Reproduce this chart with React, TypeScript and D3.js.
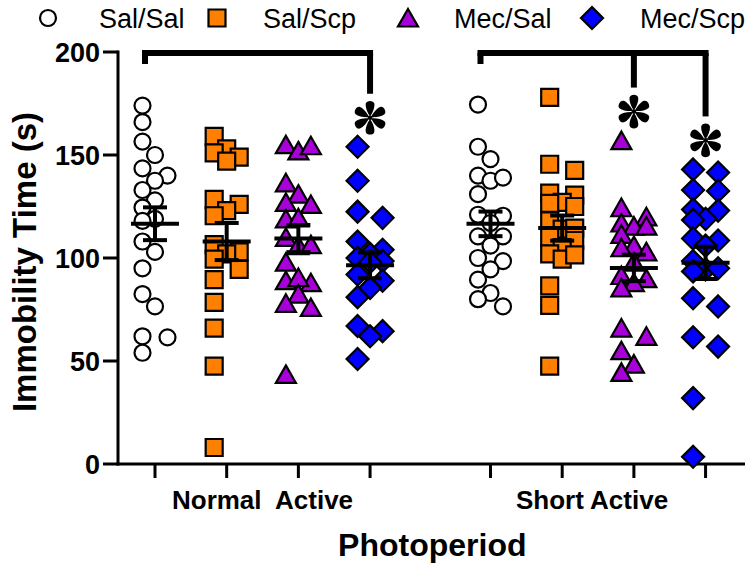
import React from "react";
import * as d3 from "d3";

// ---------- data ----------
const photoperiods = ["Normal  Active", "Short Active"];
const treatments = ["Sal/Sal", "Sal/Scp", "Mec/Sal", "Mec/Scp"];
const yTicks = [0, 50, 100, 150, 200];

const normalSalSal = [174, 166, 156.5, 150, 143.5, 140, 137.5, 133, 128, 124.5, 119, 118, 108, 103, 95, 82.5, 76.5, 62, 61.5, 54];
const normalSalScp = [159, 153, 151, 149, 147, 128.5, 126, 123, 120.5, 106.5, 103, 102, 99.5, 94.5, 89.5, 78.5, 66, 47.5, 8];
const normalMecSal = [155, 152, 154.5, 136.5, 131, 127, 126, 119, 119.5, 110, 106, 106.5, 98, 88, 89, 90.5, 82.5, 78, 76, 43.5];
const normalMecScp = [154, 137.5, 122.5, 119.5, 108, 104, 102, 100, 98.5, 98, 92, 89, 85.5, 81, 67, 64.5, 62, 51];
const shortSalSal = [174.5, 154, 148, 140, 137.5, 139, 131, 121, 120.5, 117, 110.5, 110.5, 106, 100, 98.5, 94.5, 89.5, 83, 80, 76.5];
const shortSalScp = [178, 145.5, 142.5, 131.5, 130.5, 127, 125, 126.5, 118, 114, 114.5, 110, 108.5, 105, 102, 99.5, 101.5, 86.5, 77, 47.5];
const shortMecSal = [157, 124.5, 120, 117, 115.5, 115.5, 111.5, 106, 105, 103, 98, 91.5, 90, 88, 85.5, 66, 62, 55, 48.5, 44.5];
const shortMecScp = [143, 141.5, 133, 132.5, 123.5, 123, 119, 118.5, 109.5, 108.5, 106, 98.5, 94.5, 93.5, 95, 80.5, 76.5, 61.5, 57, 32, 3.5];

// group slot positions along x (4 per photoperiod, with a gap between photoperiods)
const groupSlots = [1, 2, 3, 4, 5.68, 6.68, 7.68, 8.68];
const groupData = [normalSalSal, normalSalScp, normalMecSal, normalMecScp, shortSalSal, shortSalScp, shortMecSal, shortMecScp];
// significance brackets: [first group, significant groups...]
const brackets = [
  { from: 0, marks: [3] },
  { from: 4, marks: [6, 7] },
];

// ---------- styles ----------
const FONT = "'Liberation Sans', Arial, Helvetica, sans-serif";
const COLORS = ["#ffffff", "#ff8000", "#a800d8", "#0000ff"];

const W = 750, H = 570;
const x = d3.scaleLinear().domain([0.484, 9.23]).range([118, 745]);
const y = d3.scaleLinear().domain([0, 200]).range([464, 52]);

function markerPath(kind: number): string {
  const p = d3.path();
  if (kind === 0) {
    p.arc(0, 0, 8, 0, Math.PI * 2);
  } else if (kind === 1) {
    p.rect(-8.5, -8.5, 17, 17);
  } else if (kind === 2) {
    p.moveTo(0, -9);
    p.lineTo(10, 8.5);
    p.lineTo(-10, 8.5);
    p.closePath();
  } else {
    p.moveTo(0, -11);
    p.lineTo(11, 0);
    p.lineTo(0, 11);
    p.lineTo(-11, 0);
    p.closePath();
  }
  return p.toString();
}

function Marker({ kind, cx, cy }: { kind: number; cx: number; cy: number }) {
  return (
    <path
      d={markerPath(kind)}
      transform={`translate(${cx},${cy})`}
      fill={COLORS[kind]}
      stroke="#000"
      strokeWidth={2.2}
      strokeLinejoin="miter"
    />
  );
}

// place points in up to three columns so they do not overlap (scatter dot plot)
function arrange(values: number[], step: number, thresh: number): number[] {
  const idx = values.map((_, i) => i).sort((a, b) => values[b] - values[a]);
  const placed: { x: number; y: number }[] = [];
  const offsets = new Array(values.length).fill(0);
  for (const i of idx) {
    const py = y(values[i]);
    let best = 0;
    let bestD = -1;
    for (const c of [-1, 0, 1]) {
      const px = c * step;
      let md = Infinity;
      for (const p of placed) md = Math.min(md, Math.hypot(p.x - px, p.y - py));
      if (md >= thresh) {
        best = c;
        bestD = md;
        break;
      }
      if (md > bestD) {
        bestD = md;
        best = c;
      }
    }
    placed.push({ x: best * step, y: py });
    offsets[i] = best * step;
  }
  return offsets;
}

function Asterisk({ cx, cy }: { cx: number; cy: number }) {
  const lobes = [0, 60, 120, 180, 240, 300];
  return (
    <g transform={`translate(${cx},${cy}) scale(1.18)`}>
      {lobes.map((a) => (
        <path
          key={a}
          transform={`rotate(${a})`}
          d="M0,-1 C-2.2,-4 -4.2,-9 -3.6,-12 C-3,-15 3,-15 3.6,-12 C4.2,-9 2.2,-4 0,-1 Z"
          fill="#000"
        />
      ))}
      <circle r={2} fill="#000" />
    </g>
  );
}

export default function App() {
  const legendItems = [
    { kind: 0, mx: 48, tx: 99 },
    { kind: 1, mx: 217, tx: 263 },
    { kind: 2, mx: 408, tx: 454 },
    { kind: 3, mx: 592, tx: 640 },
  ];

  return (
    <svg
      width={W}
      height={H}
      style={{ position: "absolute", left: 0, top: 0, background: "#fff" }}
      fontFamily={FONT}
    >
      <rect width={W} height={H} fill="#fff" />

      {/* legend */}
      {legendItems.map((it, i) => (
        <g key={i}>
          <Marker kind={it.kind} cx={it.mx} cy={18} />
          <text x={it.tx} y={28} fontSize={27} fill="#000">
            {treatments[i]}
          </text>
        </g>
      ))}

      {/* y axis */}
      <line x1={x.range()[0]} x2={x.range()[0]} y1={y(0) + 1.5} y2={y(200) - 1.5} stroke="#000" strokeWidth={3} />
      {yTicks.map((t) => (
        <g key={t}>
          <line x1={x.range()[0] - 15} x2={x.range()[0]} y1={y(t)} y2={y(t)} stroke="#000" strokeWidth={3} />
          <text x={x.range()[0] - 18} y={y(t)} dy="0.36em" textAnchor="end" fontSize={27} fontWeight="bold">
            {t}
          </text>
        </g>
      ))}
      <text
        transform={`translate(36,${(y(0) + y(200)) / 2 + 4}) rotate(-90)`}
        textAnchor="middle"
        fontSize={33}
        fontWeight="bold"
      >
        Immobility Time (s)
      </text>

      {/* x axis */}
      <line x1={x.range()[0] - 1.5} x2={x.range()[1]} y1={y(0)} y2={y(0)} stroke="#000" strokeWidth={3} />
      {groupSlots.map((s, i) => (
        <line key={i} x1={x(s)} x2={x(s)} y1={y(0)} y2={y(0) + 14} stroke="#000" strokeWidth={3} />
      ))}
      {photoperiods.map((p, i) => {
        const cx = (x(groupSlots[i * 4]) + x(groupSlots[i * 4 + 3])) / 2 - (i === 1 ? 6 : 0);
        return (
          <text key={p} x={cx} y={509} textAnchor="middle" fontSize={26} fontWeight="bold" style={{ whiteSpace: "pre" }}>
            {p}
          </text>
        );
      })}
      <text x={(x(groupSlots[0]) + x(groupSlots[7])) / 2 + 2} y={556} textAnchor="middle" fontSize={32} fontWeight="bold">
        Photoperiod
      </text>

      {/* points */}
      {groupData.map((vals, g) => {
        const offs = arrange(vals, 12.5, 16);
        const kind = g % 4;
        return (
          <g key={g}>
            {vals.map((v, i) => (
              <Marker key={i} kind={kind} cx={x(groupSlots[g]) + offs[i]} cy={y(v)} />
            ))}
          </g>
        );
      })}

      {/* mean ± SEM */}
      {groupData.map((vals, g) => {
        const m = d3.mean(vals) as number;
        const sem = (d3.deviation(vals) as number) / Math.sqrt(vals.length);
        const cx = x(groupSlots[g]);
        return (
          <g key={g} stroke="#000" strokeWidth={4}>
            <line x1={cx - 24} x2={cx + 24} y1={y(m)} y2={y(m)} />
            <line x1={cx} x2={cx} y1={y(m + sem)} y2={y(m - sem)} />
            <line x1={cx - 12} x2={cx + 12} y1={y(m + sem)} y2={y(m + sem)} />
            <line x1={cx - 12} x2={cx + 12} y1={y(m - sem)} y2={y(m - sem)} />
          </g>
        );
      })}

      {/* significance brackets */}
      {brackets.map((b, bi) => {
        const left = x(groupSlots[b.from]) - 10;
        const lastG = b.marks[b.marks.length - 1];
        const right = x(groupSlots[lastG]) + 3;
        const top = 53;
        return (
          <g key={bi}>
            <line x1={left - 3} x2={right} y1={top} y2={top} stroke="#000" strokeWidth={6} />
            <line x1={left} x2={left} y1={top} y2={top + 11} stroke="#000" strokeWidth={6} />
            {b.marks.map((g) => {
              const maxV = d3.max(groupData[g]) as number;
              const cx = x(groupSlots[g]);
              const starY = y(maxV) - 29;
              return (
                <g key={g}>
                  <line x1={cx} x2={cx} y1={top} y2={starY - 24} stroke="#000" strokeWidth={6} />
                  <Asterisk cx={cx} cy={starY} />
                </g>
              );
            })}
          </g>
        );
      })}
    </svg>
  );
}
